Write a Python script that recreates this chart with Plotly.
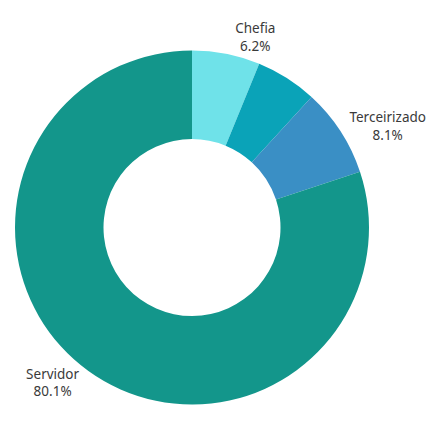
import plotly.graph_objects as go

labels = ["Chefia", "Outros", "Terceirizado", "Servidor"]
values = [6.2, 5.6, 8.1, 80.1]
show_label = [True, False, True, True]
colors = ["#6fe2e9", "#0aa3b8", "#3a8fc5", "#13968b"]

text = [f"{l}<br>{v:.1f}%" if s else "" for l, v, s in zip(labels, values, show_label)]

fig = go.Figure(go.Pie(
    labels=labels,
    values=values,
    text=text,
    textinfo="text",
    textposition="outside",
    hole=0.5,
    sort=False,
    direction="clockwise",
    rotation=0,
    marker=dict(colors=colors, line=dict(width=0)),
    textfont=dict(family="Noto Sans", size=13.5, color="#3a3a3a"),
    hoverinfo="label+percent",
))
fig.update_layout(
    width=431, height=423,
    margin=dict(l=15, r=7, t=14, b=0),
    showlegend=False,
    paper_bgcolor="white",
)
fig.write_html("out.html")
